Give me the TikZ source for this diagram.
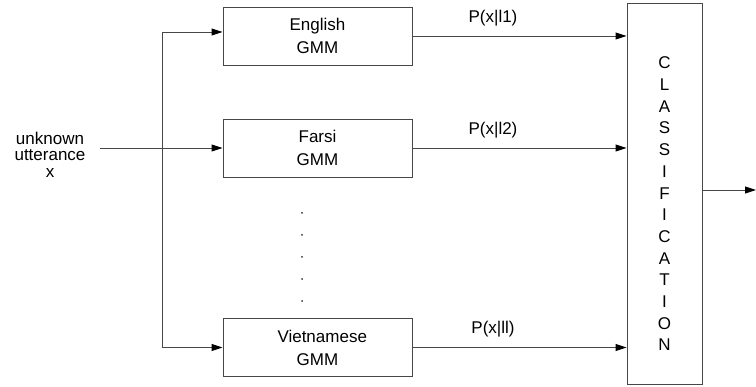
\documentclass[tikz,border=0pt]{standalone}
\usepackage{fontspec}
\setmainfont{Liberation Sans}
\usetikzlibrary{arrows.meta}
\begin{document}
\begin{tikzpicture}[x=1pt,y=-1pt,
  line/.style={draw=black!72, line width=0.9pt},
  arr/.style={line, -{Triangle[length=11pt,width=7pt,fill=black,color=black]}},
  gmm/.style={line, minimum width=189pt, minimum height=58pt, inner sep=0pt,
    align=center, font=\fontsize{17}{22.5}\selectfont},
  lbl/.style={font=\fontsize{17}{20}\selectfont, inner sep=0pt},
]
\useasboundingbox (0,0) rectangle (756,387);

% language models
\node[gmm] (en) at (317.5,36) {English\\GMM};
\node[gmm] (fa) at (317.5,148) {Farsi\\GMM};
\node[gmm] (vi) at (317.5,347.5) {\raisebox{-5pt}{\parbox{80pt}{\centering Vietnamese\\[0.6pt]GMM}}};

% classifier
\node[line, minimum width=75pt, minimum height=381pt, inner sep=0pt] (cls) at (664.5,193.5) {};
\node[align=center, inner sep=0pt, font=\fontsize{17}{21.7}\selectfont] (clstext) at (664.5,204)
  {C\\L\\A\\S\\S\\I\\F\\I\\C\\A\\T\\I\\O\\N};

% input
\node[align=center, inner sep=0pt, font=\fontsize{17}{16.5}\selectfont] (utt) at (50,154.5)
  {unknown\\utterance\\x};
\coordinate (in) at (100,148);
\coordinate (split) at (162,148);
\draw[arr] (in) -- (fa.west);
\draw[arr] (split) |- ([yshift=4pt]en.west);
\draw[arr] (split) |- (vi.west);

% model scores
\draw[arr] (en.east) -- (en.east -| cls.west);
\draw[arr] (fa.east) -- (fa.east -| cls.west);
\draw[arr] (vi.east) -- (vi.east -| cls.west);
\node[lbl] (p1) at (493,18) {P(x|l1)};
\node[lbl] (p2) at (493,130) {P(x|l2)};
\node[lbl] (pl) at (493,329.5) {P(x|ll)};

% further models
\foreach \y in {213,235,257,279,301}
  \fill[black!80] (302,\y) circle (1pt);

% decision
\coordinate (out) at (756,190);
\draw[arr] (cls.east |- out) -- (out);
\end{tikzpicture}
\end{document}
